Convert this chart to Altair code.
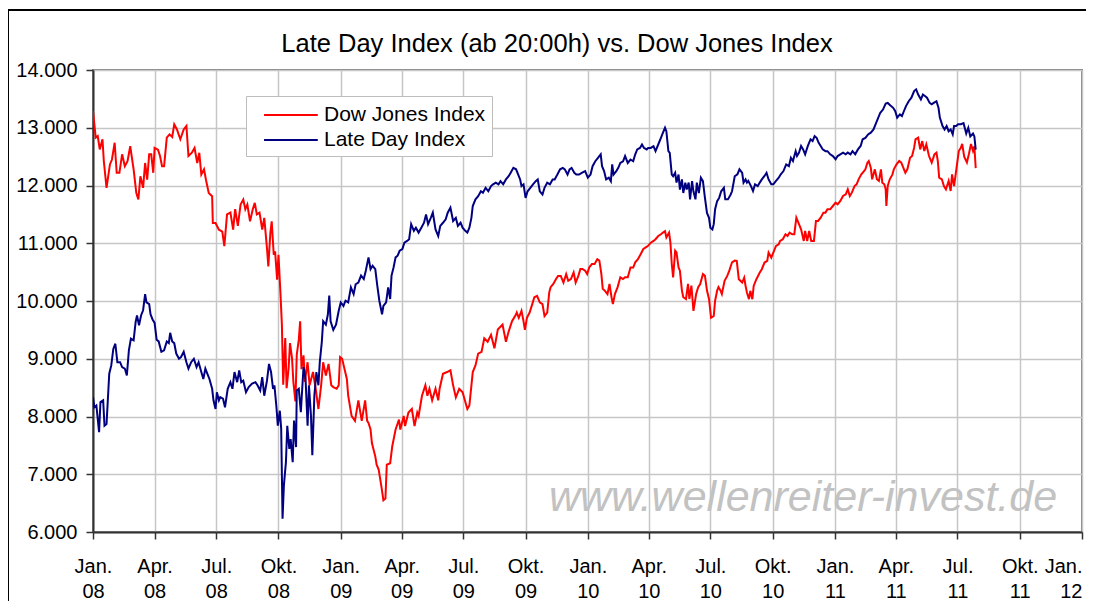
import altair as alt
import pandas as pd

# ---------------- data ----------------
# day offsets from 2008-01-01 and index values
dj_day = [0,4,7,10,14,16,20,25,28,32,35,39,43,47,51,55,60,64,67,70,74,77,80,83,86,89,91,96,99,102,105,109,113,117,120,124,129,134,138,141,146,150,154,157,160,164,167,171,176,177,181,186,191,194,198,203,207,210,214,218,222,225,228,232,236,239,242,246,250,253,257,259,262,264,267,269,272,274,277,279,281,284,286,289,291,294,296,299,301,304,306,
          308,311,313,317,320,325,329,333,337,340,344,348,352,355,360,363,365,368,375,377,382,387,392,397,402,405,407,410,412,417,419,422,426,429,432,434,439,442,447,452,454,459,461,466,471,475,479,481,486,491,494,497,501,506,510,512,517,523,528,532,536,541,546,553,556,561,565,569,574,578,583,588,593,598,605,610,614,619,625,
          626,629,633,636,638,641,645,649,652,656,660,664,667,671,674,676,680,684,687,691,695,699,702,706,710,713,717,720,723,727,730,733,737,741,745,748,751,753,756,760,763,766,768,771,775,779,783,786,790,794,798,801,805,809,813,816,820,824,828,831,835,839,842,845,847,851,853,855,857,860,862,865,867,870,872,876,879,881,884,887,891,894,897,901,904,907,910,913,917,919,922,924,927,929,933,937,940,944,948,
          951,954,959,962,964,966,969,971,974,976,980,985,988,992,996,998,1002,1005,1009,1013,1015,1019,1023,1026,1029,1033,1036,1039,1042,1046,1050,1052,1055,1058,1061,1065,1068,1071,1075,1079,1082,1085,1089,1093,1097,1100,1104,1108,1112,1115,1118,1121,1125,1128,1131,1135,1139,1141,1144,1146,1149,1151,1155,1158,1161,1164,1166,1169,1171,1172,1174,1177,1181,1183,1187,1191,1194,1197,1200,1203,1207,1210,1213,1215,1219,1222,1225,1228,1231,1235,1239,1243,1246,1248,1250,1254,1257,1260,1264,1267,1269,1272,1276,1279,1282,1284,1287,1291,1294,1297,1300,1302,1304]
dj_val = [13290,12830,12855,12625,12800,12420,11960,12365,12450,12740,12220,12220,12540,12335,12420,12680,12280,11870,11757,12160,11960,12390,12100,12540,12540,12220,12650,12620,12510,12335,12335,12830,12885,12840,13060,12970,12800,12970,13030,12510,12567,12650,12390,12567,12190,12280,12090,11870,11815,11350,11350,11235,11200,10950,11500,11530,11235,11590,11300,11670,11757,11590,11670,11380,11590,11700,11500,11530,11235,11440,10915,10600,11180,11380,10800,10860,10370,10800,10110,9600,8550,9360,8490,8840,9270,9010,8600,8260,9070,9330,9650,
          8820,9060,8600,8940,8540,8770,8480,8130,8540,8940,8710,8910,8540,8510,8480,8540,9030,9000,8650,8360,8010,7925,8280,7925,8280,7925,7890,7775,7540,7310,7165,7080,6790,6550,6580,7165,7190,7480,7775,7945,7775,8010,7835,8070,8130,7835,8070,8010,8360,8540,8360,8480,8280,8480,8280,8480,8740,8770,8800,8540,8330,8480,8420,8130,8190,8770,8885,9090,9120,9355,9295,9415,9180,9505,9590,9295,9470,9650,9770,
          9800,9710,9830,9650,9500,9710,9800,9950,10065,10090,9975,9945,9740,9800,10150,10240,10295,10380,10435,10435,10320,10465,10350,10380,10495,10320,10435,10555,10555,10525,10465,10580,10640,10640,10725,10700,10465,10210,10180,10120,10295,10065,9945,10120,10240,10410,10380,10410,10410,10580,10580,10670,10725,10810,10900,10925,10955,11010,11040,11070,11125,11155,11185,11210,11100,11185,11010,10640,10410,10870,10840,10580,10525,10180,10065,10035,10295,10035,10265,9830,10120,10240,10295,10465,10435,10180,10035,9710,9740,10005,10180,10240,10180,10120,10350,10435,10525,10670,10700,
          10694,10377,10320,10406,10262,10147,10032,10176,10032,10262,10377,10493,10550,10666,10694,10839,10752,10839,10954,10983,11040,11069,11156,11127,11184,11156,11156,11444,11357,11242,11040,11213,11040,11213,11040,11040,11386,11386,11444,11530,11530,11588,11588,11645,11703,11674,11732,11818,11847,11934,11818,11876,11991,12020,12107,12193,12251,12280,12395,12424,12308,12107,12280,12107,12078,12280,12049,12020,11934,11645,11991,12107,12193,12280,12366,12424,12395,12308,12222,12280,12481,12510,12654,12798,12827,12625,12769,12597,12712,12510,12395,12539,12568,12424,12135,12107,11991,11934,12078,11905,12193,11991,12337,12597,12654,12720,12500,12400,12550,12720,12600,12680,12300]

ldi_day = [0,2,5,9,11,15,17,20,24,27,30,33,36,40,43,47,50,53,56,60,63,65,68,71,74,77,79,83,85,88,91,94,97,101,105,109,112,114,117,120,123,127,130,134,138,141,145,149,153,156,160,163,166,169,172,176,178,181,183,186,188,192,195,199,203,206,209,213,216,219,222,226,230,235,240,243,247,250,253,257,260,263,266,268,271,273,276,278,280,282,285,287,290,292,295,297,300,301,304,307,
           311,314,317,319,322,324,327,330,333,335,338,340,344,347,349,351,355,359,363,366,370,373,377,381,385,388,392,396,400,403,407,410,413,417,420,423,427,429,433,436,439,441,444,447,450,453,457,460,464,467,470,474,477,481,485,489,492,495,499,502,506,510,513,517,521,524,528,532,536,539,543,546,550,553,556,559,561,565,569,573,576,580,584,588,591,595,599,602,606,610,614,617,621,625,
           631,633,636,639,642,646,650,654,657,660,664,667,671,675,679,682,686,690,694,697,701,704,707,711,714,718,722,727,731,735,738,742,746,750,752,755,758,762,765,767,769,773,776,779,783,786,790,794,798,801,804,808,811,814,818,820,824,828,831,835,839,842,845,847,850,852,855,857,860,862,865,867,870,872,875,877,880,882,885,887,890,892,895,898,901,904,907,910,912,915,917,919,922,925,928,932,934,938,942,944,
           948,952,955,959,961,964,966,968,972,975,978,982,985,988,992,995,998,1002,1005,1009,1013,1016,1020,1024,1028,1031,1034,1038,1040,1043,1046,1049,1052,1056,1060,1063,1066,1069,1072,1075,1078,1082,1085,1089,1093,1097,1100,1104,1108,1112,1115,1119,1122,1126,1130,1134,1137,1141,1145,1149,1153,1156,1159,1163,1167,1171,1174,1178,1182,1185,1188,1192,1195,1198,1201,1205,1209,1213,1216,1219,1223,1226,1229,1232,1236,1239,1242,1246,1249,1251,1255,1258,1261,1264,1267,1270,1272,1275,1278,1282,1286,1290,1293,1296,1300,1302,1304]
ldi_val = [8335,8160,8190,7730,8250,8280,7840,7870,8740,8885,9170,9260,8940,8940,8855,8830,8710,9145,9350,9320,9640,9750,9580,9750,9840,10120,9975,9945,9770,9680,9620,9330,9300,9120,9145,9300,9270,9450,9300,9270,9090,9000,9030,9120,8940,8830,8940,9000,8855,8940,8770,8650,8830,8740,8650,8480,8280,8130,8420,8280,8335,8310,8160,8480,8595,8480,8770,8595,8800,8595,8620,8420,8510,8570,8595,8540,8450,8680,8360,8620,8910,8770,8480,8540,8160,7840,8100,7790,6230,6810,7210,7840,7440,7610,7210,7930,7470,8450,8480,8075,
           8855,8650,7840,8540,8010,7330,8360,8770,8540,8940,9290,9650,9590,9770,10095,9650,9500,9590,9830,9975,9915,10005,9975,10235,10120,10290,10320,10440,10380,10525,10755,10550,10610,10550,10260,10005,9770,9915,9975,10235,10035,10440,10580,10755,10785,10870,10900,11010,11040,11070,11330,11215,11270,11185,11270,11355,11500,11330,11440,11530,11240,11125,11300,11355,11415,11530,11615,11385,11440,11300,11355,11270,11215,11185,11270,11440,11645,11760,11815,11900,11875,11960,11900,11990,12020,12050,12020,12075,12020,12105,12160,12220,12305,12280,
           12105,11990,12020,11785,11900,11960,12020,12075,12105,11900,11845,11960,12050,12020,12105,12105,12190,12280,12305,12280,12190,12280,12305,12220,12190,12190,12220,12250,12135,12190,12335,12420,12480,12540,12335,12250,12105,12135,12075,12365,12190,12250,12305,12390,12420,12510,12390,12450,12420,12540,12625,12650,12710,12650,12625,12650,12650,12680,12595,12710,12825,12915,13000,12940,12595,12565,12190,12160,12220,12050,12190,11930,12105,11870,12050,11930,12050,11760,12075,11900,11760,12050,11870,12135,12075,11785,11525,11440,11270,11240,11330,11590,11730,11785,11900,11960,11760,11760,11845,11900,
           12160,12195,12280,12220,12050,12105,12050,12080,11990,11905,12020,11990,12050,12105,12165,12220,12105,12020,12020,12080,12135,12195,12250,12365,12335,12480,12425,12595,12510,12570,12685,12625,12540,12685,12800,12770,12855,12825,12740,12685,12625,12595,12595,12540,12510,12455,12510,12540,12570,12540,12570,12540,12595,12540,12625,12685,12800,12825,12885,12915,12970,13060,13145,13260,13315,13420,13430,13385,13345,13290,13175,13230,13200,13290,13375,13460,13520,13635,13665,13575,13490,13575,13550,13520,13430,13405,13430,13460,13345,13175,13030,12970,13030,12940,12970,12885,13030,13030,13060,13060,13080,12900,13000,12850,12900,12850,12620]

series_names = ["Dow Jones Index", "Late Day Index"]
series_colors = ["#ff0000", "#000080"]
month_labels = ["Jan.", "Feb.", "Mär.", "Apr.", "Mai", "Jun.", "Jul.", "Aug.", "Sep.", "Okt.", "Nov.", "Dez."]
y_ticks = [6000, 7000, 8000, 9000, 10000, 11000, 12000, 13000, 14000]
title_text = "Late Day Index (ab 20:00h) vs. Dow Jones Index"
watermark_text = "www.wellenreiter-invest.de"

# ---------------- build table ----------------
base = pd.Timestamp("2008-01-01")
def to_dates(days):
    return [(base + pd.Timedelta(days=d)).strftime("%Y-%m-%d") for d in days]

df = pd.concat([
    pd.DataFrame({"date": to_dates(dj_day), "value": dj_val, "series": series_names[0], "order": 0}),
    pd.DataFrame({"date": to_dates(ldi_day), "value": ldi_val, "series": series_names[1], "order": 1}),
], ignore_index=True)

tick_dates = [alt.DateTime(year=y, month=m, date=1, utc=True)
              for y in range(2008, 2012) for m in (1, 4, 7, 10)] + [alt.DateTime(year=2012, month=1, date=1, utc=True)]

FONT = "Liberation Sans"
month_js = "[" + ",".join("'%s'" % m for m in month_labels) + "]"

x_enc = alt.X(
    "date:T",
    scale=alt.Scale(type="utc", domain=[alt.DateTime(year=2008, month=1, date=1, utc=True),
                                        alt.DateTime(year=2012, month=1, date=1, utc=True)]),
    axis=alt.Axis(
        title=None, values=tick_dates, grid=True,
        labelExpr="[%s[utcmonth(datum.value)], utcFormat(datum.value, '%%y')]" % month_js,
        labelAlign={"condition": {"test": "utcyear(datum.value) >= 2012", "value": "right"},
                    "value": "center"},
        labelFlush=False, labelOverlap=False, labelPadding=17, labelLineHeight=25,
        labelFontSize=20, tickSize=7,
    ),
)
y_enc = alt.Y(
    "value:Q",
    scale=alt.Scale(domain=[6000, 14000], nice=False, zero=False),
    axis=alt.Axis(
        title=None, values=y_ticks, grid=True,
        labelExpr="replace(format(datum.value, ',.0f'), ',', '.')",
        labelFlush=False, labelOverlap=False, labelPadding=9, labelFontSize=20, tickSize=7,
    ),
)

lines = alt.Chart(df).mark_line(strokeWidth=2, clip=True).encode(
    x=x_enc,
    y=y_enc,
    color=alt.Color(
        "series:N",
        scale=alt.Scale(domain=series_names, range=series_colors),
        legend=alt.Legend(
            title=None, orient="none", legendX=153, legendY=26,
            symbolType="M-0.08,0H4.4", symbolSize=576, symbolStrokeWidth=2,
            labelFontSize=21, labelFont=FONT, labelOffset=46, labelLimit=0,
            rowPadding=2, padding=6, strokeColor="#bdbdbd", fillColor="white",
        ),
    ),
    order=alt.Order("order:Q"),
)

one = pd.DataFrame({"title": [title_text], "wm": [watermark_text]})

frame = alt.Chart(one).mark_rect(fill="transparent", stroke="black", strokeWidth=2).encode(
    x=alt.value(-85), x2=alt.value(1030), y=alt.value(-60), y2=alt.value(560)
)

title = alt.Chart(one).mark_text(
    fontSize=25.5, font=FONT, align="center", baseline="alphabetic", color="black"
).encode(text="title:N", x=alt.value(464), y=alt.value(-18))

watermark = alt.Chart(one).mark_text(
    fontSize=43, font=FONT, fontStyle="italic", align="center", baseline="alphabetic",
    color="#c2c2c2",
).encode(text="wm:N", x=alt.value(710), y=alt.value(441))

chart = alt.layer(frame, watermark, lines, title).properties(
    width=989, height=462,
    padding={"left": 85, "top": 62, "right": 4, "bottom": 69},
    autosize=alt.AutoSizeParams(type="none"),
).configure_view(
    stroke="#808080", strokeWidth=2
).configure_axis(
    gridColor="#c6c6c6", gridWidth=1.5,
    domainColor="#333333", domainWidth=2,
    tickColor="#333333", tickWidth=1.5,
    labelColor="black", labelFont=FONT,
)

chart.save("out.html", embed_options={"renderer": "svg", "actions": False})
